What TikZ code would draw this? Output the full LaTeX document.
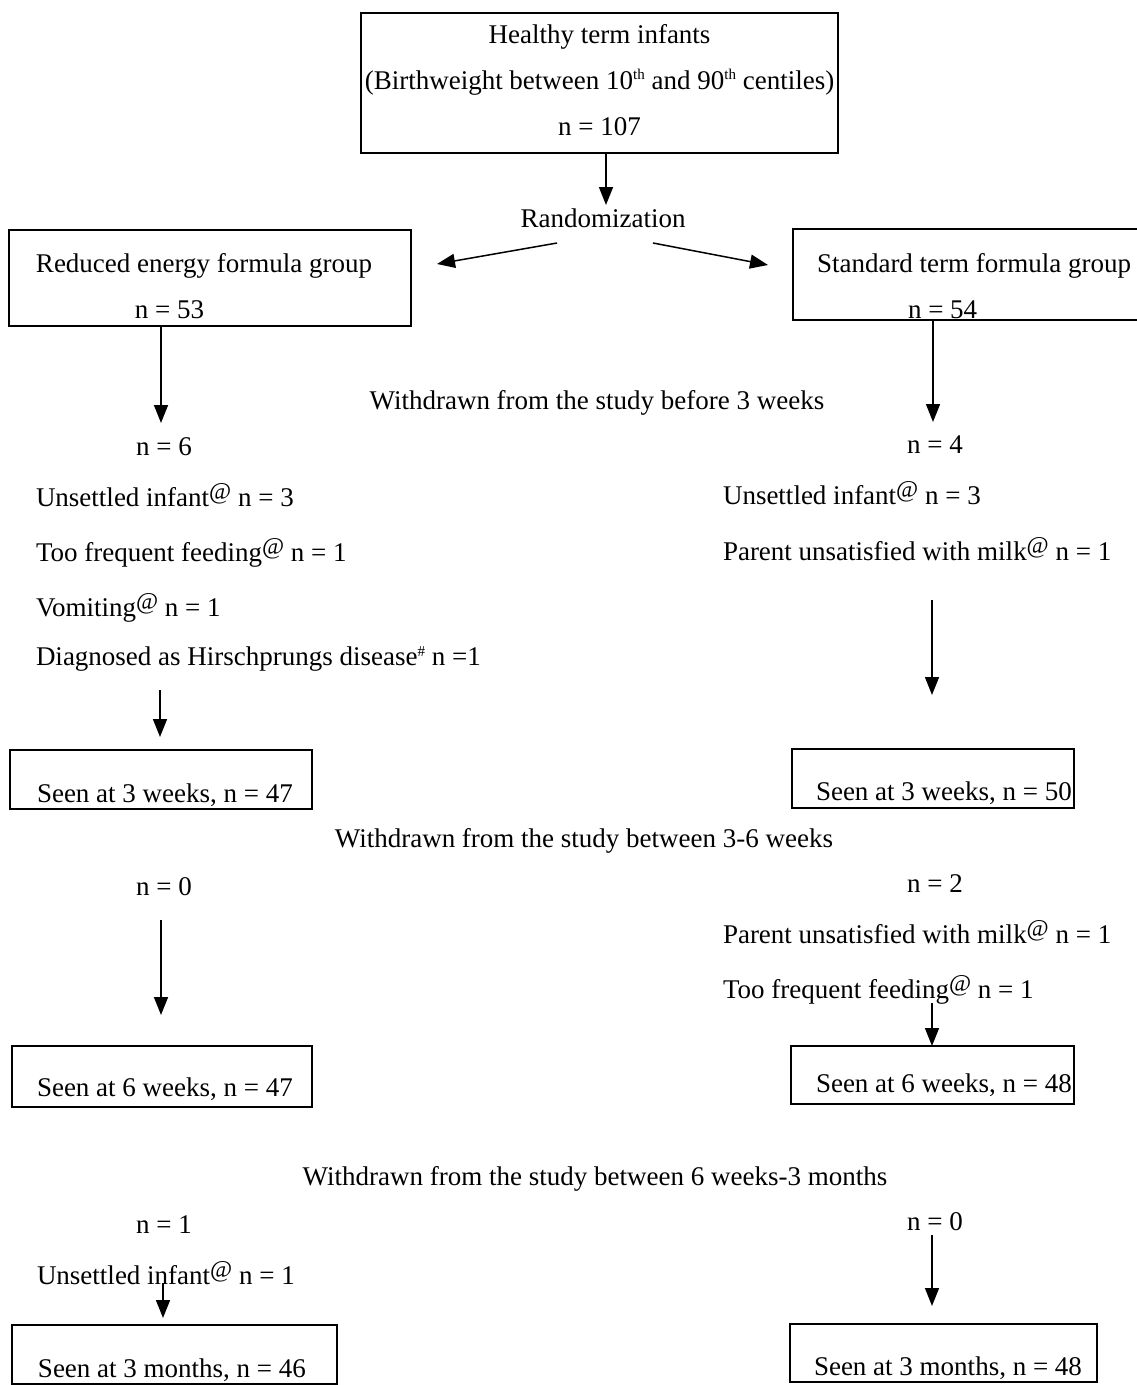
\documentclass[tikz,border=0pt]{standalone}
\usepackage{fontspec}
\setmainfont{Liberation Serif}
\usetikzlibrary{arrows.meta}
\newcommand{\supat}{\raisebox{7pt}{\fontsize{24pt}{24pt}\selectfont @}}
\newcommand{\supth}{\raisebox{10pt}{\fontsize{15pt}{15pt}\selectfont th}}
\newcommand{\suphash}{\raisebox{9pt}{\fontsize{15pt}{15pt}\selectfont\#}}
\newcommand{\ctrline}[1]{\makebox[\linewidth][c]{#1}}
\newcommand{\natsp}{\spaceskip=0pt\xspaceskip=0pt\relax}
\begin{document}
\begin{tikzpicture}[x=1pt,y=-1pt,
  every node/.style={font=\fontsize{27pt}{46pt}\selectfont},
  lbl/.style={inner sep=0pt, outer sep=0pt, text height=18pt, text depth=6pt},
  box/.style={draw, line width=1.4pt, inner sep=0pt, outer sep=0pt, anchor=north west},
  arr/.style={line width=1.5pt, -{Triangle[length=18pt,width=14pt]}}]
\useasboundingbox (0,0) rectangle (1137,1385);

% boxes
\node[box, text width=477pt, text height=30pt, text depth=110pt] (top) at (361,13)
  {\natsp\ctrline{Healthy term infants}\\\ctrline{(Birthweight between 10\supth{} and 90\supth{} centiles)}\\\ctrline{n = 107}};
\node[box, text width=402pt, text height=42pt, text depth=54pt] (L0) at (9,230)
  {\natsp\mbox{\hspace*{27pt}Reduced energy formula group}\\\mbox{\hspace*{126pt}n = 53}};
\node[box, text width=347pt, text height=43pt, text depth=48pt] (R0) at (793,229)
  {\natsp\mbox{\hspace*{24pt}Standard term formula group}\\\mbox{\hspace*{115pt}n = 54}};
\node[box, text width=302pt, text height=52pt, text depth=7pt] (L3w) at (10,750)
  {\natsp\mbox{\hspace*{27pt}Seen at 3 weeks, n = 47}};
\node[box, text width=282pt, text height=51pt, text depth=8pt] (R3w) at (792,749)
  {\natsp\mbox{\hspace*{24pt}Seen at 3 weeks, n = 50}};
\node[box, text width=300pt, text height=50pt, text depth=11pt] (L6w) at (12,1046)
  {\natsp\mbox{\hspace*{25pt}Seen at 6 weeks, n = 47}};
\node[box, text width=283pt, text height=46pt, text depth=12pt] (R6w) at (791,1046)
  {\natsp\mbox{\hspace*{25pt}Seen at 6 weeks, n = 48}};
\node[box, text width=325pt, text height=52pt, text depth=7pt] (L3m) at (12,1325)
  {\natsp\mbox{\hspace*{26pt}Seen at 3 months, n = 46}};
\node[box, text width=307pt, text height=51pt, text depth=7pt] (R3m) at (790,1324)
  {\natsp\mbox{\hspace*{24pt}Seen at 3 months, n = 48}};

% labels
\node[lbl, anchor=base] (rand) at (603,227) {Randomization};
\node[lbl, anchor=base] (w1) at (597,409) {Withdrawn from the study before 3 weeks};
\node[lbl, anchor=base] (nL1) at (164,455) {n = 6};
\node[lbl, anchor=base] (nR1) at (935,453) {n = 4};
\node[lbl, anchor=base west] (uL1) at (36,506) {Unsettled infant\supat{} n = 3};
\node[lbl, anchor=base west] (tL1) at (36,561) {Too frequent feeding\supat{} n = 1};
\node[lbl, anchor=base west] (vL1) at (36,616) {Vomiting\supat{} n = 1};
\node[lbl, anchor=base west] (dL1) at (36,665) {Diagnosed as Hirschprungs disease\suphash{} n =1};
\node[lbl, anchor=base west] (uR1) at (723,504) {Unsettled infant\supat{} n = 3};
\node[lbl, anchor=base west] (pR1) at (723,560) {Parent unsatisfied with milk\supat{} n = 1};

\node[lbl, anchor=base] (w2) at (584,847) {Withdrawn from the study between 3-6 weeks};
\node[lbl, anchor=base] (nL2) at (164,895) {n = 0};
\node[lbl, anchor=base] (nR2) at (935,892) {n = 2};
\node[lbl, anchor=base west] (pR2) at (723,943) {Parent unsatisfied with milk\supat{} n = 1};
\node[lbl, anchor=base west] (tR2) at (723,998) {Too frequent feeding\supat{} n = 1};

\node[lbl, anchor=base] (w3) at (595,1185) {Withdrawn from the study between 6 weeks-3 months};
\node[lbl, anchor=base] (nL3) at (164,1233) {n = 1};
\node[lbl, anchor=base] (nR3) at (935,1230) {n = 0};
\node[lbl, anchor=base west] (uL3) at (37,1284) {Unsettled infant\supat{} n = 1};

% arrows
\draw[arr] ([xshift=6.5pt]top.south) -- ([xshift=3pt,yshift=4pt]rand.north);
\draw[arr] ([xshift=-46pt,yshift=-10pt]rand.south) -- ([xshift=26pt,yshift=14pt]L0.east);
\draw[arr] ([xshift=50pt,yshift=-10pt]rand.south) -- ([xshift=-25pt,yshift=9.5pt]R0.west);
\draw[arr] ([xshift=152pt]L0.south west) -- ([xshift=-3pt,yshift=14pt]nL1.north);
\draw[arr] ([xshift=140pt]R0.south west) -- ([xshift=-2pt,yshift=13pt]nR1.north);
\draw[arr] ([xshift=124pt,yshift=-19pt]dL1.south west) -- ([xshift=150pt,yshift=13pt]L3w.north west);
\draw[arr] ([xshift=209pt,yshift=-34pt]pR1.south west) -- ([xshift=140pt,yshift=54pt]R3w.north west);
\draw[arr] ([xshift=-3pt,yshift=-19pt]nL2.south) -- ([xshift=149pt,yshift=31pt]L6w.north west);
\draw[arr] ([xshift=209pt,yshift=1pt]tR2.south west) -- ([xshift=141pt]R6w.north west);
\draw[arr] ([xshift=126pt,yshift=7pt]uL3.south west) -- ([xshift=151pt,yshift=7pt]L3m.north west);
\draw[arr] ([xshift=-3pt,yshift=1pt]nR3.south) -- ([xshift=142pt,yshift=18pt]R3m.north west);
\end{tikzpicture}
\end{document}
